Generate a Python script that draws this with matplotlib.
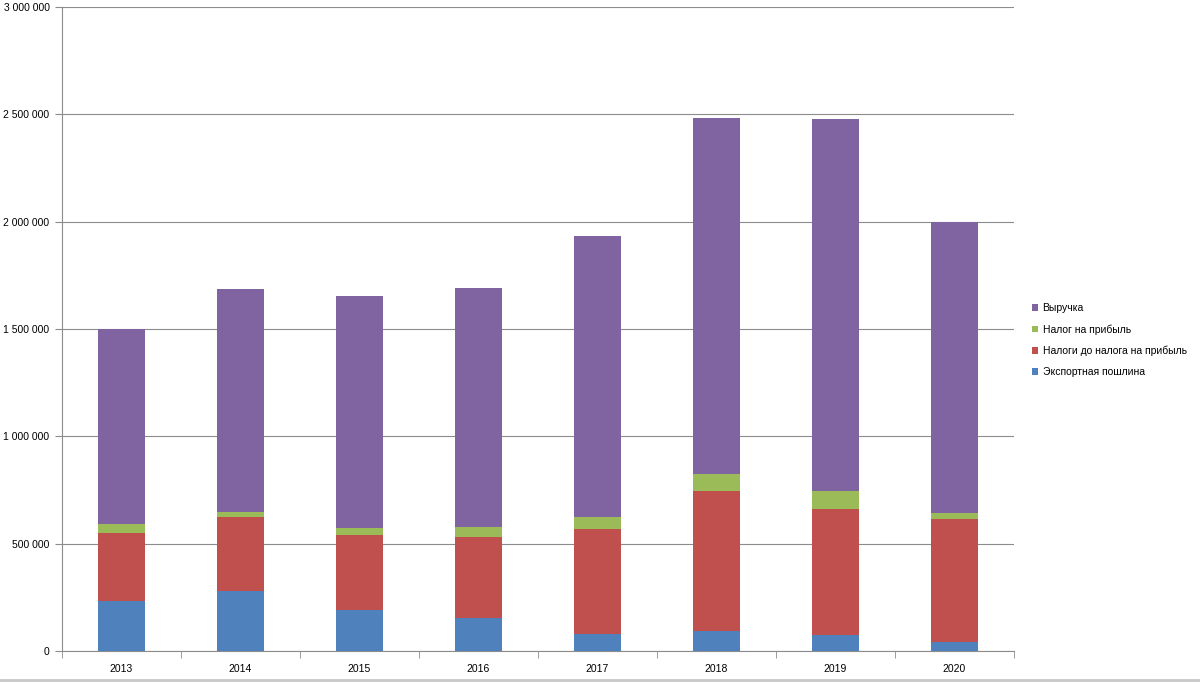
import matplotlib.pyplot as plt
import numpy as np
from matplotlib.ticker import FuncFormatter, FixedLocator

years = ['2013', '2014', '2015', '2016', '2017', '2018', '2019', '2020']
export_duty = [234000, 280000, 190000, 152000, 78000, 93000, 73000, 40000]
taxes_before = [317000, 346000, 352000, 378000, 490000, 653000, 590000, 577000]
profit_tax = [41000, 20000, 30000, 49000, 56000, 79000, 83000, 26000]
revenue = [908000, 1041000, 1082000, 1113000, 1310000, 1659000, 1733000, 1356000]

series = [
    ('Экспортная пошлина', export_duty, '#4F81BD'),
    ('Налоги до налога на прибыль', taxes_before, '#C0504D'),
    ('Налог на прибыль', profit_tax, '#9BBB59'),
    ('Выручка', revenue, '#8064A2'),
]

plt.rcParams['font.family'] = ['Liberation Sans', 'DejaVu Sans']
fig = plt.figure(figsize=(12, 6.82), dpi=100)
ax = fig.add_axes([62 / 1200, 31 / 682, (1014 - 62) / 1200, (651 - 7) / 682])

x = np.arange(len(years))
bottom = np.zeros(len(years))
handles = []
for name, vals, color in series:
    b = ax.bar(x, vals, width=0.4, bottom=bottom, color=color, label=name, zorder=3)
    bottom += np.array(vals)
    handles.append(b)

ax.set_xlim(-0.5, len(years) - 0.5)
ax.set_ylim(0, 3000000)
ax.set_yticks(np.arange(0, 3000001, 500000))
ax.yaxis.set_major_formatter(FuncFormatter(lambda v, p: '{:,.0f}'.format(v).replace(',', ' ')))
ax.grid(axis='y', color='#8c8c8c', linewidth=0.8, zorder=0)

ax.set_xticks(x)
ax.set_xticklabels(years)
ax.xaxis.set_minor_locator(FixedLocator(np.arange(-0.5, len(years), 1)))
ax.tick_params(axis='x', which='major', length=0, labelsize=7.5, pad=9)
ax.tick_params(axis='x', which='minor', length=5, color='#8c8c8c')
ax.tick_params(axis='y', length=5, color='#8c8c8c', labelsize=7.5, pad=4)

for s in ['top', 'right']:
    ax.spines[s].set_visible(False)
for s in ['left', 'bottom']:
    ax.spines[s].set_color('#8c8c8c')
    ax.spines[s].set_linewidth(0.8)

fig.legend(handles[::-1], [s[0] for s in series][::-1], loc='upper left',
           bbox_to_anchor=(1028 / 1200, 1 - 299 / 682), frameon=False,
           fontsize=7.5, handlelength=0.6, handleheight=0.6, handletextpad=0.4,
           labelspacing=1.05, borderaxespad=0)

fig.add_artist(plt.Line2D([0, 1], [2 / 682, 2 / 682], color='#c8c8c8', linewidth=2))

fig.savefig('out.png', dpi=100)
